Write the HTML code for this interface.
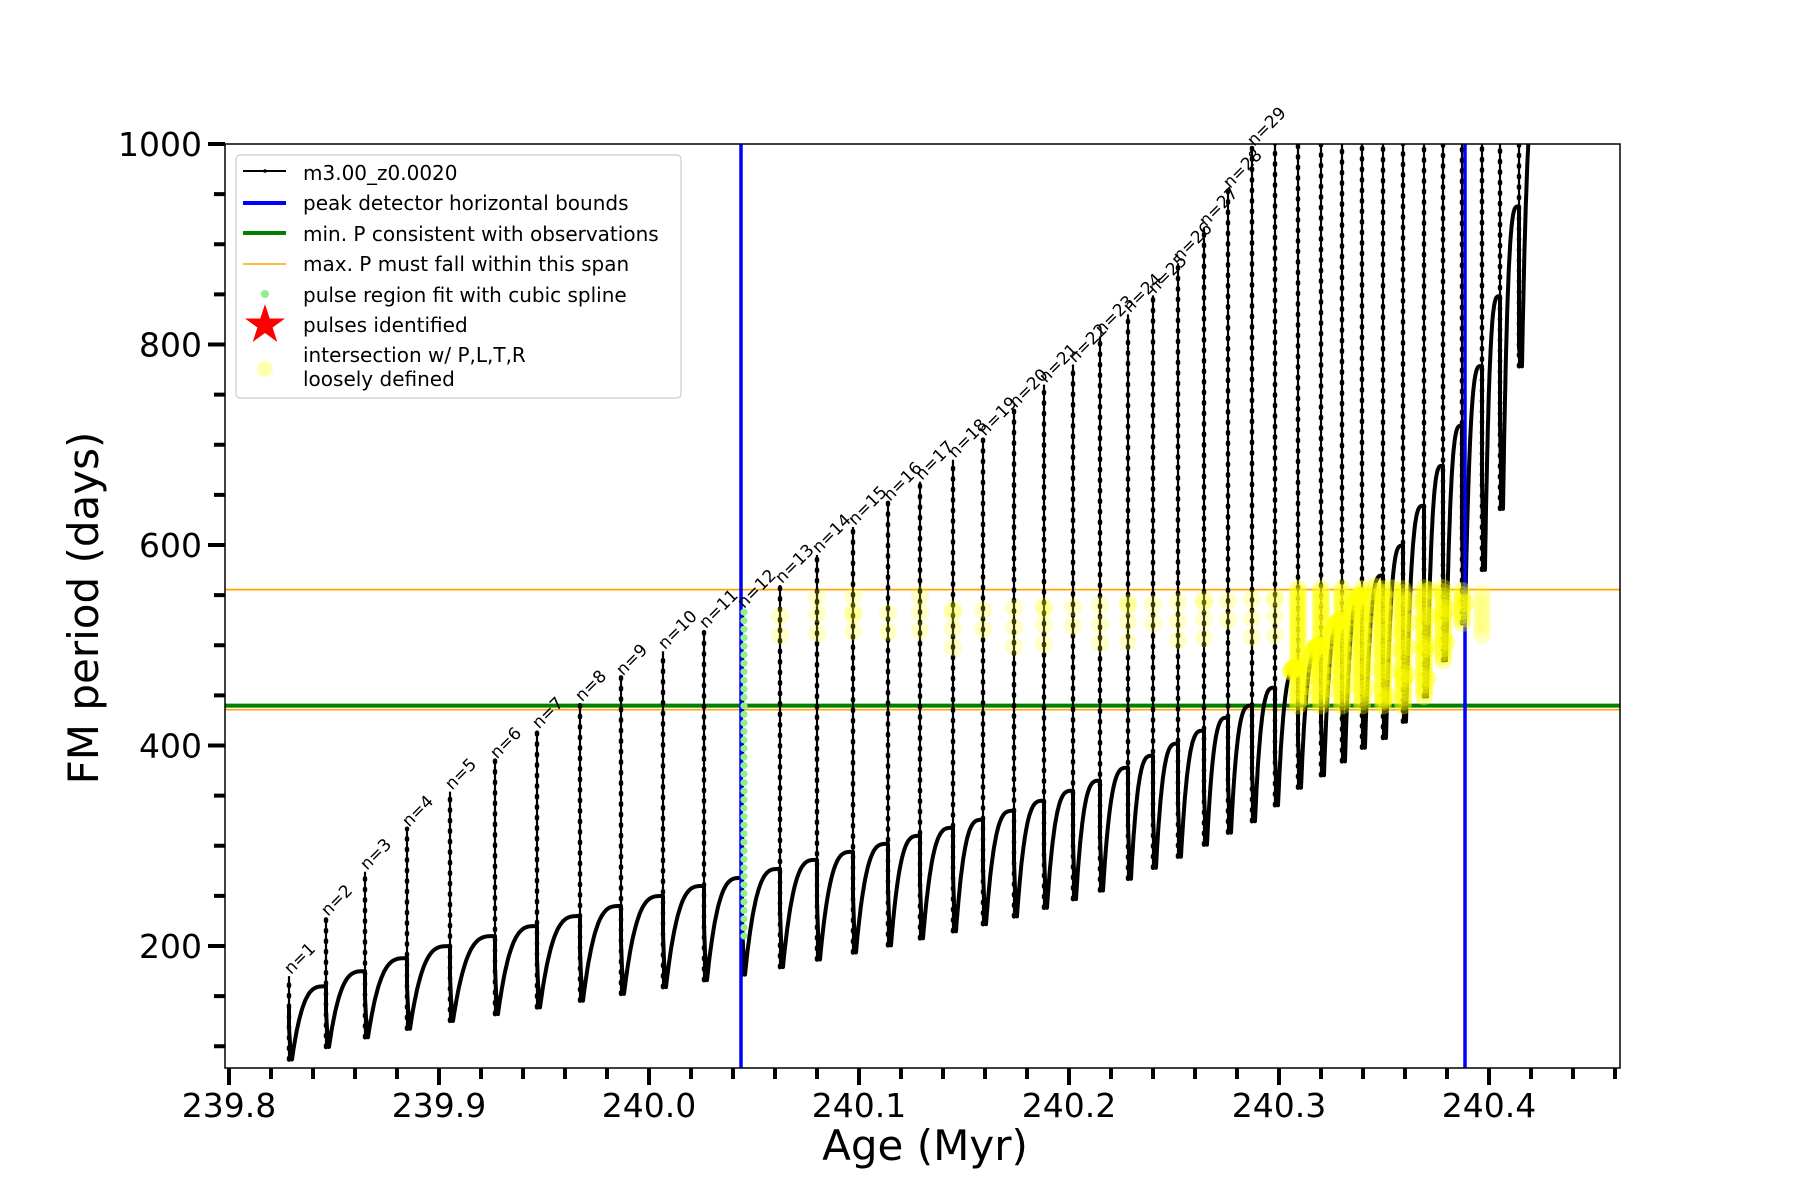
<!DOCTYPE html>
<html><head><meta charset="utf-8">
<style>
html,body{margin:0;padding:0;background:#fff;}
svg{display:block;font-family:"DejaVu Sans","Liberation Sans",sans-serif;}
</style></head>
<body>
<svg id="s" width="1800" height="1200" viewBox="0 0 1800 1200" xmlns="http://www.w3.org/2000/svg">
<defs><clipPath id="c"><rect x="225" y="144" width="1395" height="924"/></clipPath></defs>
<rect x="0" y="0" width="1800" height="1200" fill="#fff"/>
<g id="plot" clip-path="url(#c)"></g>
<rect x="225" y="144" width="1395" height="924" fill="none" stroke="#000" stroke-width="1.5"/>
<g id="ticks"></g>
<g id="labels"></g>
<text x="925" y="1160" font-size="42" text-anchor="middle">Age (Myr)</text>
<text transform="translate(98,608) rotate(-90)" font-size="42" text-anchor="middle">FM period (days)</text>
<!-- legend -->
<rect x="236" y="155" width="445" height="243" rx="4" fill="#fff" fill-opacity="0.85" stroke="#ccc" stroke-width="1.2"/>
<line x1="243" y1="171" x2="286" y2="171" stroke="#000" stroke-width="2"/><circle cx="265" cy="171" r="1.8" fill="#000"/>
<text x="303" y="180" font-size="20">m3.00_z0.0020</text>
<line x1="243" y1="203" x2="286" y2="203" stroke="#0000ff" stroke-width="4"/>
<text x="303" y="210" font-size="20">peak detector horizontal bounds</text>
<line x1="243" y1="233" x2="286" y2="233" stroke="#008000" stroke-width="4"/>
<text x="303" y="241" font-size="20">min. P consistent with observations</text>
<line x1="243" y1="264" x2="286" y2="264" stroke="#ffa500" stroke-width="1.6"/>
<text x="303" y="271" font-size="20">max. P must fall within this span</text>
<circle cx="265" cy="294" r="4" fill="#90ee90"/>
<text x="303" y="302" font-size="20">pulse region fit with cubic spline</text>
<polygon id="star" fill="#ff0000" points=""/>
<text x="303" y="332" font-size="20">pulses identified</text>
<circle cx="265" cy="369" r="8" fill="#ffff00" fill-opacity="0.3"/>
<text x="303" y="362" font-size="20">intersection w/ P,L,T,R</text>
<text x="303" y="386" font-size="20">loosely defined</text>
</svg>
<script>
(function(){
var NS="http://www.w3.org/2000/svg";
function el(t,a,p){var e=document.createElementNS(NS,t);for(var k in a)e.setAttribute(k,a[k]);(p||document.getElementById('plot')).appendChild(e);return e;}
function Y(p){return 144+(1000-p)*1.0025;}
function X(a){return 229+(a-239.8)*2100;}
var sp=[];for(var i=0;i<10;i++){var r=i%2?8:21,an=-Math.PI/2+i*Math.PI/5;sp.push((265+r*Math.cos(an)).toFixed(1)+","+(325+r*Math.sin(an)).toFixed(1));}
document.getElementById('star').setAttribute('points',sp.join(' '));
function interp(tab,x){if(x<=tab[0][0])return tab[0][1];for(var i=1;i<tab.length;i++){if(x<=tab[i][0]){var t=(x-tab[i-1][0])/(tab[i][0]-tab[i-1][0]);return tab[i-1][1]+t*(tab[i][1]-tab[i-1][1]);}}return tab[tab.length-1][1];}
var sx=[289,326,365,407,450,495,537,580,621,663,704,742,780,817,853,888,920,953,983,1014,1044,1073,1100,1128,1153,1178,1204,1228,1252,1275,1298,1321,1342,1362,1383,1403,1424,1443,1462,1482,1500,1519];
var pk=[170,228,274,317,354,385,415,442,468,494,515,535,560,590,618,642,663,685,707,735,760,780,808,830,849,881,916,954,996];
var Bt=[[289,140],[326,160],[365,175],[407,188],[450,200],[495,210],[537,220],[580,230],[621,240],[663,250],[704,260],[742,268],[780,277],[817,286],[853,294],[888,302],[920,310],[953,318],[983,326],[1014,335],[1044,345],[1073,355],[1100,365],[1128,378],[1153,390],[1178,402],[1204,415],[1228,428],[1252,440],[1275,458],[1298,478],[1321,500],[1342,525],[1362,550],[1383,570],[1403,600],[1424,640],[1443,680],[1462,720],[1482,780],[1500,850],[1519,940],[1537,1050],[1560,1200]];
var Rt=[[289,0.62],[742,0.64],[1100,0.7],[1300,0.75],[1420,0.7],[1500,0.75],[1519,0.83]];
var pts=[];var spikes="";var yel=[];
for(var n=0;n<sx.length;n++){
  var x0=sx[n],x1=(n+1<sx.length)?sx[n+1]:1540;
  var Bs=interp(Bt,x0-0.5),Be=interp(Bt,x1-0.5);
  var step=0.85*Bs, mn=interp(Rt,x0)*Bs;
  var peak=n<pk.length?pk[n]:1150;
  pts.push([x0,Bs]);pts.push([x0,step]);
  spikes+="M"+x0+","+Y(mn).toFixed(1)+"V"+Y(peak).toFixed(1);
  var xm=x0+3;pts.push([x0+1,(step+mn)/2]);pts.push([xm,mn]);
  var N=40;
  for(var k=1;k<=N;k++){var t=k/N;var v=mn+(Be-mn)*(1-Math.pow(1-t,3.2));pts.push([xm+(x1-1-xm)*t,v]);}
  if(x0>=1290&&x0<=1470){var lo=Math.max(mn,440),hi=Math.min(peak,558);for(var q=lo;q<=hi;q+=4)yel.push([x0,q,0.35]);}
  else if(x0>=1475&&x0<=1490){for(var q=510;q<=555;q+=6)yel.push([x0,q,0.2]);}
  else if(x0>=770&&x0<1290){var cnt=2+(n*7)%3;for(var j=0;j<cnt;j++){var q=498+((n*37+j*19)%54);yel.push([x0,q,0.22]);}}
}
var d="";for(var i=0;i<pts.length;i++){d+=(i?"L":"M")+pts[i][0].toFixed(1)+","+Y(pts[i][1]).toFixed(1);}
for(var i=0;i<pts.length;i++){var px=pts[i][0],pv=pts[i][1];if(px>1290&&px<1470&&pv>=445&&pv<=560&&i%2==0)yel.push([px,pv,0.4]);}
el('line',{x1:225,x2:1620,y1:Y(555.5),y2:Y(555.5),stroke:'#ffa500','stroke-width':1.7});
el('line',{x1:225,x2:1620,y1:Y(435.7),y2:Y(435.7),stroke:'#ffa500','stroke-width':1.7});
el('line',{x1:225,x2:1620,y1:Y(439.8),y2:Y(439.8),stroke:'#008000','stroke-width':4});
el('path',{d:spikes,stroke:'#000','stroke-width':2.2,fill:'none'});
el('path',{d:spikes,stroke:'#000','stroke-width':4.5,fill:'none','stroke-dasharray':'1.5 9','stroke-linecap':'round'});
el('path',{d:d,stroke:'#000','stroke-width':4,fill:'none','stroke-linejoin':'round'});
el('line',{x1:741,x2:741,y1:144,y2:1068,stroke:'#0000ff','stroke-width':3.5});
el('line',{x1:1465,x2:1465,y1:144,y2:1068,stroke:'#0000ff','stroke-width':3.5});
var g=el('g',{fill:'#90ee90'});
for(var p=210;p<=535;p+=8.5){el('circle',{cx:744,cy:Y(p).toFixed(1),r:3.6},g);}
var yg=el('g',{fill:'#ffff00'});
for(var i=0;i<yel.length;i++){el('circle',{cx:yel[i][0].toFixed(1),cy:Y(yel[i][1]).toFixed(1),r:9,'fill-opacity':yel[i][2]},yg);}
var lg=document.getElementById('labels');
for(var n=0;n<29;n++){var x=sx[n]+2,y=Y(pk[n])-1;var t=el('text',{x:0,y:0,'font-size':17,transform:'translate('+x+','+y+') rotate(-45)'},lg);t.textContent='n='+(n+1);}
var tg=document.getElementById('ticks');var td="";
for(var i=0;i<=33;i++){var a=239.8+i*0.02;var x=X(a);if(x>1621)break;var maj=(i%5==0);td+="M"+x.toFixed(1)+",1068v"+(maj?17:11);
 if(maj){var t=el('text',{x:x.toFixed(1),y:1117,'font-size':33,'text-anchor':'middle'},tg);t.textContent=a.toFixed(1);}}
for(var p=100;p<=1000;p+=50){var y=Y(p);var maj=(p%200==0);td+="M225,"+y.toFixed(1)+"h"+(maj?-17:-11);
 if(maj){var t=el('text',{x:202,y:(y+12).toFixed(1),'font-size':33,'text-anchor':'end'},tg);t.textContent=p;}}
el('path',{d:td,stroke:'#000','stroke-width':4,fill:'none'},tg);
})();
</script>
</body></html>
